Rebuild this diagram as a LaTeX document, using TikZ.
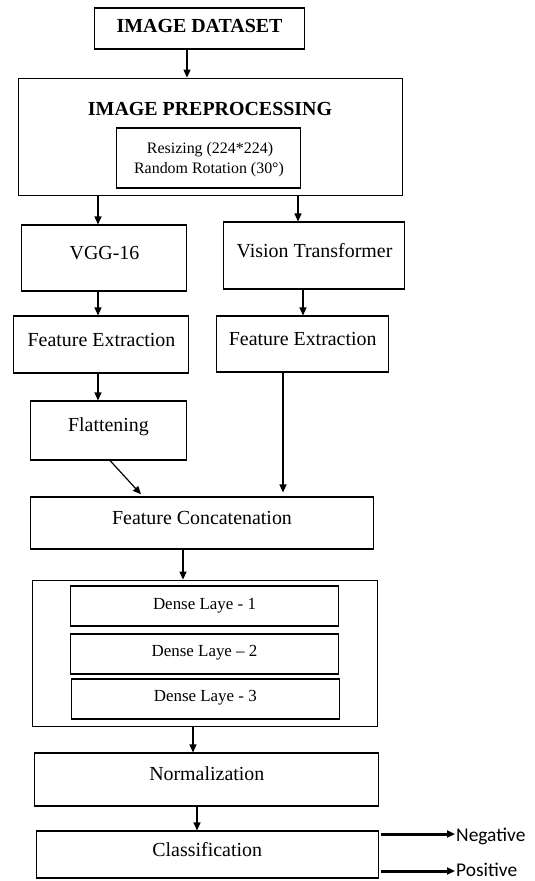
\documentclass[tikz,border=0pt]{standalone}
\usepackage{fontspec}
\setmainfont{Liberation Serif}
\newfontfamily\calib{Carlito}
\usetikzlibrary{arrows.meta}

\begin{document}
\begin{tikzpicture}[x=1bp,y=-1bp,
  box/.style={draw=black, line width=1.3bp, rectangle, inner sep=0pt},
  lbl/.style={anchor=base, inner sep=0pt, font=\fontsize{20}{24}\selectfont},
  hdr/.style={lbl, font=\fontsize{20}{24}\selectfont\bfseries},
  small/.style={lbl, font=\fontsize{16}{19}\selectfont},
  dense/.style={lbl, font=\fontsize{17}{20}\selectfont},
  outlbl/.style={anchor=base west, inner sep=0pt, font=\calib\fontsize{19.5}{23}\selectfont},
  arr/.style={line width=1.2bp, -{Triangle[length=8bp,width=7bp]}},
  thickarr/.style={line width=3bp, -{Triangle[length=8bp,width=7bp]}}]

\useasboundingbox (0,0) rectangle (535,881);

% boxes: centre and size
\newcommand{\mybox}[5]{%
  \node[box, minimum width={(#4)-(#2)}, minimum height={(#5)-(#3)}]
    (#1) at ({((#2)+(#4))/2},{((#3)+(#5))/2}) {};}

\mybox{ds}{94}{8}{305}{49}
\mybox{pre}{18}{78}{403}{196}
\mybox{prein}{116}{128}{301}{188}
\mybox{vgg}{21}{225}{187}{291}
\mybox{vit}{223}{222}{405}{289}
\mybox{fea}{13}{316}{189}{373}
\mybox{feb}{216}{316}{389}{372}
\mybox{flat}{30}{401}{187}{460}
\mybox{cat}{30}{497}{374}{549}
\mybox{dns}{32}{580}{378}{727}
\mybox{da}{70}{586}{339}{626}
\mybox{db}{70}{634}{339}{674}
\mybox{dc}{71}{679}{340}{719}
\mybox{norm}{34}{753}{379}{806}
\mybox{cls}{36}{831}{379}{878}

% labels
\node[hdr] (t-ds) at (199.5,32.5) {IMAGE DATASET};
\node[hdr] (t-pre) at (210,115) {IMAGE PREPROCESSING};
\node[small] (t-rs) at (210,153) {Resizing (224*224)};
\node[small] (t-rr) at (209,173.3) {Random Rotation (30°)};
\node[lbl] (t-vgg) at (104.5,259) {VGG-16};
\node[lbl] (t-vit) at (314.5,257.7) {Vision Transformer};
\node[lbl] (t-fea) at (101.5,346) {Feature Extraction};
\node[lbl] (t-feb) at (302.7,345) {Feature Extraction};
\node[lbl] (t-flat) at (108.5,431.7) {Flattening};
\node[lbl] (t-cat) at (202,524.3) {Feature Concatenation};
\node[dense] (t-da) at (204.5,609) {Dense Laye - 1};
\node[dense] (t-db) at (204.5,656.7) {Dense Laye – 2};
\node[dense] (t-dc) at (205.3,701.7) {Dense Laye - 3};
\node[lbl] (t-norm) at (206.8,780.7) {Normalization};
\node[lbl] (t-cls) at (207.2,856.3) {Classification};
\node[outlbl] (neg) at (456,841.5) {Negative};
\node[outlbl] (pos) at (456,876.5) {Positive};

% connectors
\draw[arr] (187,0 |- ds.south) -- (187,0 |- pre.north);
\draw[arr] (98,0 |- pre.south) -- (98,0 |- vgg.north);
\draw[arr] (298,0 |- pre.south) -- (298,0 |- vit.north);
\draw[arr] (98,0 |- vgg.south) -- (98,0 |- fea.north);
\draw[arr] (303,0 |- vit.south) -- (303,0 |- feb.north);
\draw[arr] (98,0 |- fea.south) -- (98,0 |- flat.north);
\draw[arr, shorten >=3bp] (110,0 |- flat.south) -- (143,0 |- cat.north);
\draw[arr, shorten >=4bp] (283,0 |- feb.south) -- (283,0 |- cat.north);
\draw[arr] (183,0 |- cat.south) -- (183,0 |- dns.north);
\draw[arr] (193,0 |- dns.south) -- (193,0 |- norm.north);
\draw[arr] (197,0 |- norm.south) -- (197,0 |- cls.north);
\draw[thickarr] ([xshift=2bp]cls.east |- 0,834) -- ([xshift=-1bp]neg.west |- 0,834);
\draw[thickarr] ([xshift=2bp]cls.east |- 0,871) -- ([xshift=-1bp]pos.west |- 0,871);
\end{tikzpicture}
\end{document}
